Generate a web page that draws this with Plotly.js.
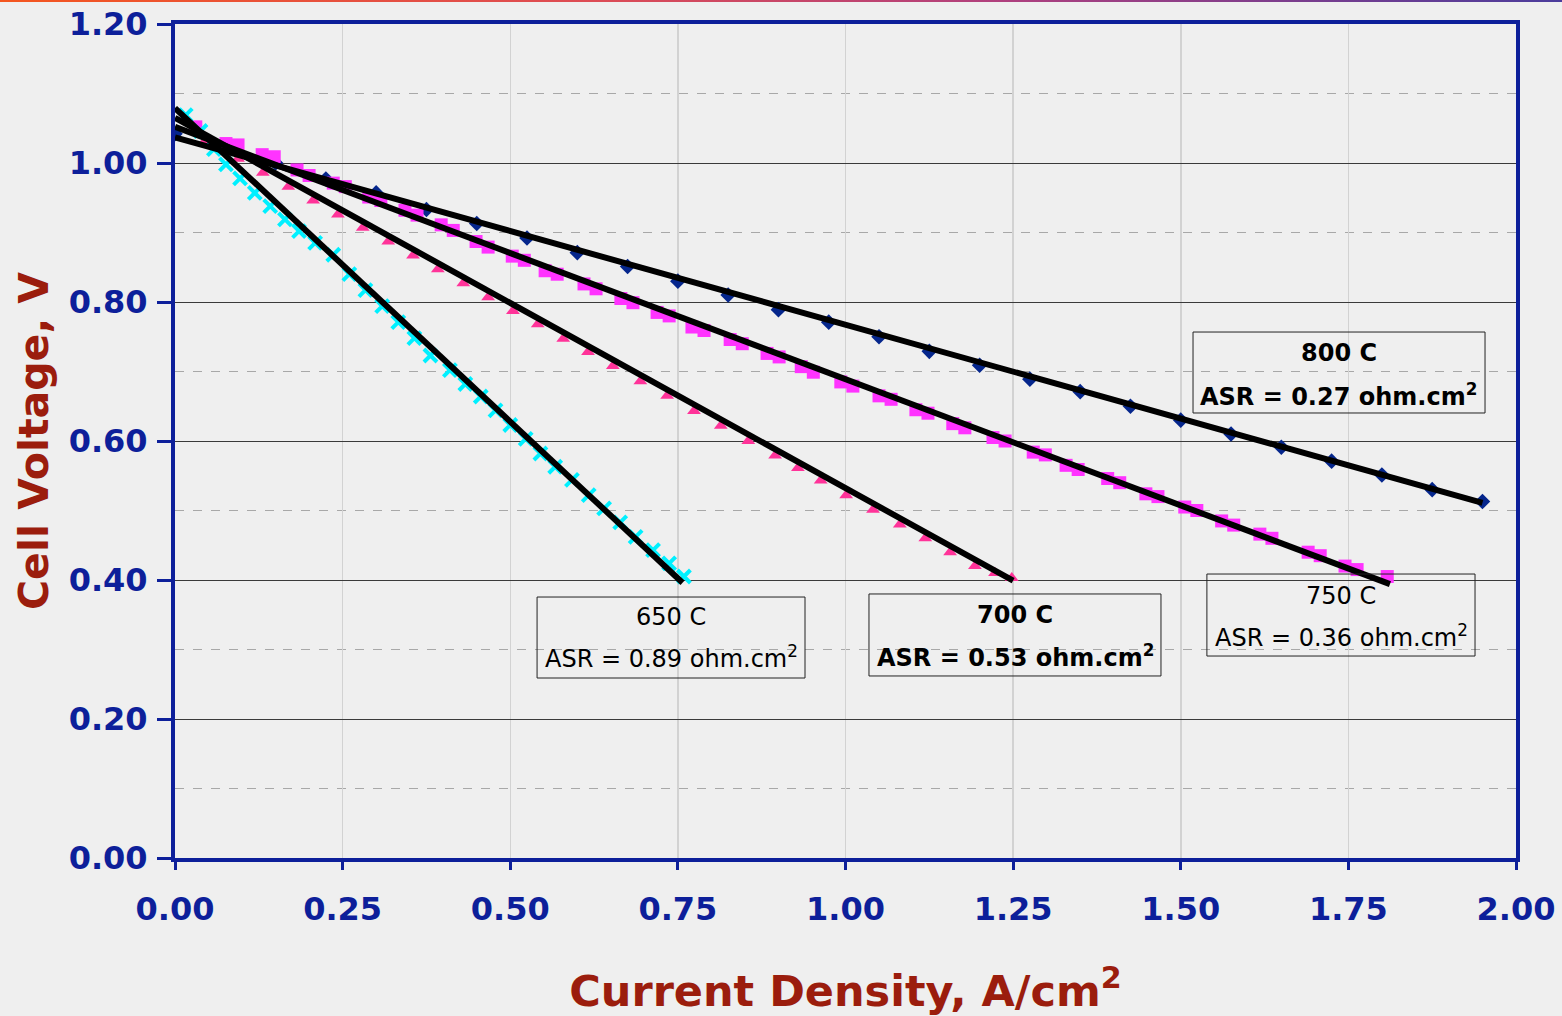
<!DOCTYPE html>
<html><head><meta charset="utf-8">
<script src="https://cdn.plot.ly/plotly-3.0.1.min.js"></script>
<style>
html,body{margin:0;padding:0;background:#efefef;overflow:hidden}
#topbar{position:absolute;left:0;top:0;width:1562px;height:2px;background:linear-gradient(to right,#f4561f 0%,#dd4c55 38%,#b0407e 64%,#4b3c9c 100%);z-index:10}
#chart{width:1562px;height:1016px}
</style></head>
<body><div id="topbar"></div><div id="chart"></div>
<script>
// ---- data ----
const x800 = [0,0.075,0.15,0.225,0.30,0.375,0.45,0.525,0.60,0.675,0.75,0.825,0.90,0.975,1.05,1.125,1.20,1.275,1.35,1.425,1.50,1.575,1.65,1.725,1.80,1.875,1.95];
const y800 = [1.042,1.020,1.000,0.977,0.957,0.933,0.913,0.892,0.871,0.851,0.830,0.810,0.789,0.771,0.750,0.729,0.709,0.689,0.671,0.650,0.630,0.610,0.591,0.571,0.551,0.530,0.513];

const x750 = [0.031,0.076,0.094,0.130,0.148,0.182,0.200,0.236,0.254,0.289,0.307,0.343,0.361,0.397,0.415,0.449,0.467,0.503,0.521,0.552,0.570,0.610,0.628,0.665,0.683,0.719,0.737,0.771,0.789,0.828,0.846,0.883,0.901,0.934,0.952,0.993,1.011,1.050,1.068,1.105,1.123,1.160,1.178,1.220,1.238,1.280,1.298,1.329,1.347,1.391,1.409,1.448,1.466,1.506,1.524,1.561,1.579,1.618,1.636,1.690,1.708,1.745,1.763,1.808];
const y750 = [1.052,1.028,1.026,1.012,1.009,0.990,0.982,0.971,0.966,0.951,0.946,0.932,0.925,0.911,0.903,0.887,0.879,0.866,0.860,0.845,0.840,0.826,0.819,0.805,0.799,0.785,0.780,0.764,0.759,0.746,0.740,0.726,0.721,0.707,0.699,0.685,0.679,0.665,0.660,0.645,0.640,0.625,0.619,0.605,0.600,0.584,0.580,0.565,0.559,0.546,0.540,0.524,0.520,0.505,0.500,0.485,0.479,0.466,0.460,0.440,0.435,0.420,0.415,0.405];

const x700 = [0.045,0.094,0.131,0.169,0.206,0.243,0.280,0.318,0.355,0.392,0.430,0.467,0.504,0.541,0.579,0.616,0.653,0.694,0.734,0.774,0.814,0.855,0.895,0.929,0.963,1.001,1.041,1.081,1.119,1.156,1.193,1.223,1.248];
const y700 = [1.032,1.006,0.986,0.966,0.946,0.926,0.907,0.887,0.867,0.847,0.827,0.807,0.787,0.768,0.747,0.728,0.708,0.686,0.665,0.643,0.622,0.600,0.579,0.561,0.543,0.522,0.501,0.480,0.460,0.440,0.420,0.410,0.403];

const x650 = [0.016,0.038,0.058,0.076,0.097,0.119,0.142,0.164,0.185,0.209,0.236,0.260,0.284,0.309,0.333,0.357,0.381,0.410,0.433,0.456,0.478,0.500,0.523,0.545,0.567,0.592,0.617,0.640,0.664,0.687,0.713,0.737,0.759];
const y650 = [1.069,1.046,1.020,0.998,0.978,0.957,0.938,0.919,0.902,0.885,0.868,0.840,0.817,0.794,0.771,0.748,0.723,0.702,0.682,0.664,0.644,0.623,0.603,0.582,0.563,0.544,0.522,0.503,0.483,0.462,0.443,0.424,0.405];

// linear fit lines (end points)
const fit650X = [0, 0.757], fit650Y = [1.079, 0.396];
const fit700X = [0, 1.250], fit700Y = [1.065, 0.399];
const fit750X = [0, 1.812], fit750Y = [1.052, 0.394];
const fit800X = [0, 1.950], fit800Y = [1.037, 0.511];

const tempLabels = ["650 C", "700 C", "750 C", "800 C"];
const asrLabels = ["ASR = 0.89 ohm.cm<sup>2</sup>", "ASR = 0.53 ohm.cm<sup>2</sup>", "ASR = 0.36 ohm.cm<sup>2</sup>", "ASR = 0.27 ohm.cm<sup>2</sup>"];

// ---- styles ----
const BLUE = '#0d1f9a';
const RED = '#9b1d0d';
const FONT = 'DejaVu Sans, Verdana, sans-serif';

const traces = [
  {x: x800, y: y800, mode: 'markers', marker: {symbol: 'diamond', size: 12, color: '#05268c'}},
  {x: x750, y: y750, mode: 'markers', marker: {symbol: 'square', size: 13, color: '#ff33ff'}},
  {x: x700, y: y700, mode: 'markers', marker: {symbol: 'triangle-up', size: 12, color: '#ff3399'}},
  {x: x650, y: y650, mode: 'markers', marker: {symbol: 'x-thin-open', size: 13, color: '#00f0ff', line: {color: '#00f0ff', width: 4}}},
  {x: fit650X, y: fit650Y, mode: 'lines', line: {color: '#000', width: 6}},
  {x: fit700X, y: fit700Y, mode: 'lines', line: {color: '#000', width: 6}},
  {x: fit750X, y: fit750Y, mode: 'lines', line: {color: '#000', width: 6}},
  {x: fit800X, y: fit800Y, mode: 'lines', line: {color: '#000', width: 6}}
];

// text boxes: [x0,x1,y0,y1,xc,yLine1,yLine2,bold]
const boxes = [
  [0.540, 0.9396, 0.259, 0.3755, 0.740, 0.3468, 0.289, false],
  [1.035, 1.4705, 0.2619, 0.3799, 1.2528, 0.3496, 0.2906, true],
  [1.539, 1.9389, 0.2906, 0.4086, 1.739, 0.377, 0.3194, false],
  [1.5183, 1.9538, 0.6403, 0.7568, 1.736, 0.7266, 0.6662, true]
];
const shapes = [], annotations = [];
boxes.forEach((b, i) => {
  shapes.push({type: 'rect', xref: 'x', yref: 'y', x0: b[0], x1: b[1], y0: b[2], y1: b[3], line: {color: '#222', width: 1}, fillcolor: 'rgba(0,0,0,0)'});
  const f = {family: FONT, size: 24, color: '#000', weight: b[7] ? 'bold' : 'normal'};
  annotations.push({x: b[4], y: b[5], xref: 'x', yref: 'y', text: tempLabels[i], showarrow: false, font: f, xanchor: 'center', yanchor: 'middle'});
  annotations.push({x: b[4], y: b[6], xref: 'x', yref: 'y', text: asrLabels[i], showarrow: false, font: f, xanchor: 'center', yanchor: 'middle'});
});

const layout = {
  width: 1562, height: 1016,
  paper_bgcolor: '#efefef', plot_bgcolor: '#efefef',
  margin: {l: 175, r: 46, t: 24, b: 158},
  showlegend: false,
  xaxis: {
    range: [0, 2], dtick: 0.25, tick0: 0, tickformat: '.2f',
    showgrid: true, gridcolor: '#d2d2d2', gridwidth: 1.5, zeroline: false,
    showline: true, linecolor: BLUE, linewidth: 4, mirror: true,
    ticks: 'outside', ticklen: 8, tickwidth: 3, tickcolor: BLUE,
    ticklabelstandoff: 12,
    tickfont: {family: FONT, size: 32, color: BLUE, weight: 'bold'},
    title: {text: 'Current Density, A/cm<sup>2</sup>', font: {family: FONT, size: 43, color: RED, weight: 'bold'}, standoff: 51}
  },
  yaxis: {
    range: [0, 1.2], dtick: 0.2, tick0: 0, tickformat: '.2f',
    showgrid: true, gridcolor: '#3a3a3a', gridwidth: 1, zeroline: false,
    minor: {dtick: 0.1, showgrid: true, gridcolor: '#a8a8a8', griddash: 'dash', gridwidth: 1.2},
    showline: true, linecolor: BLUE, linewidth: 4, mirror: true,
    ticks: 'outside', ticklen: 14, tickwidth: 3, tickcolor: BLUE,
    ticklabelstandoff: 3,
    tickfont: {family: FONT, size: 32, color: BLUE, weight: 'bold'},
    title: {text: 'Cell Voltage, V', font: {family: FONT, size: 41, color: RED, weight: 'bold'}, standoff: 8}
  },
  shapes: shapes,
  annotations: annotations
};

Plotly.newPlot('chart', traces, layout, {staticPlot: true, displayModeBar: false});
</script>
</body></html>
